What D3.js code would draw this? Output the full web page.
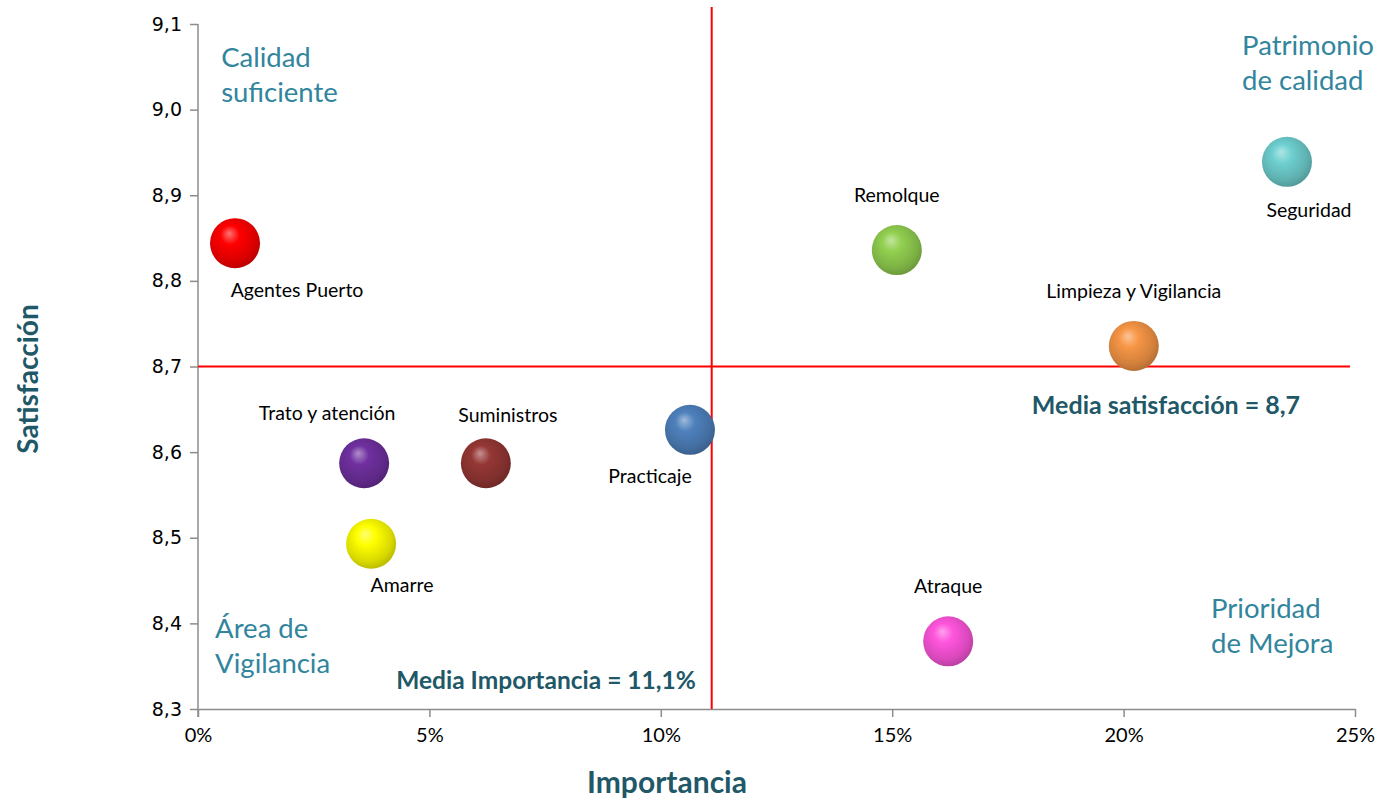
<!DOCTYPE html>
<html>
<head>
<meta charset="utf-8">
<script src="https://cdn.jsdelivr.net/npm/d3@7"></script>
<style>
  html, body { margin: 0; padding: 0; background: #fff; }
  svg { display: block; }
</style>
</head>
<body>
<svg id="chart" width="1398" height="800"></svg>
<script>
// Importancia (%) vs. Satisfacción for each port service
const services = ["Agentes Puerto", "Trato y atención", "Amarre", "Suministros", "Practicaje",
                  "Remolque", "Atraque", "Limpieza y Vigilancia", "Seguridad"];
const importance = [0.80, 3.59, 3.74, 6.22, 10.63, 15.10, 16.21, 20.22, 23.53];
const satisfaction = [8.844, 8.587, 8.493, 8.587, 8.626, 8.836, 8.379, 8.724, 8.939];
const colors = ["#ff0000", "#7030a0", "#ffff00", "#953735", "#4f81bd",
                "#92d050", "#ff55dd", "#f79646", "#6fd0d0"];
// label offsets from each bubble centre (px)
const labelDx = [62, -37, 31, 22, -40, 0, 0, 0, 22];
const labelDy = [54, -43, 48, -41, 53, -48, -48, -48, 55];

const xTicks = [0, 5, 10, 15, 20, 25];
const yTicks = [8.3, 8.4, 8.5, 8.6, 8.7, 8.8, 8.9, 9.0, 9.1];

const meanImportance = 11.1;
const meanSatisfaction = 8.7;

// quadrant captions, anchored at (importance, satisfaction) of the first line's baseline
const quadrants = [
  { lines: ["Calidad", "suficiente"], x: 0.5, y: 9.05 },
  { lines: ["Patrimonio", "de calidad"], x: 22.56, y: 9.064 },
  { lines: ["Área de", "Vigilancia"], x: 0.37, y: 8.383 },
  { lines: ["Prioridad", "de Mejora"], x: 21.89, y: 8.406 }
];

const svg = d3.select("#chart");
const x = d3.scaleLinear().domain([0, 25]).range([198, 1355]);
const y = d3.scaleLinear().domain([8.3, 9.1]).range([709, 24]);

const axisColor = "#8c8c8c";
const titleColor = "#215868";
const quadColor = "#31859c";
const font = "Lato, 'Open Sans', sans-serif";

// sphere shading gradients
const defs = svg.append("defs");
colors.forEach((c, i) => {
  const base = d3.color(c);
  const g = defs.append("radialGradient")
    .attr("id", "ball" + i)
    .attr("cx", "45%").attr("cy", "42%").attr("r", "60%")
    .attr("fx", "38%").attr("fy", "30%");
  g.append("stop").attr("offset", "0%").attr("stop-color", d3.interpolateRgb(base, "#ffffff")(0.45));
  g.append("stop").attr("offset", "32%").attr("stop-color", base.formatHex());
  g.append("stop").attr("offset", "78%").attr("stop-color", base.darker(0.45).formatHex());
  g.append("stop").attr("offset", "100%").attr("stop-color", base.darker(0.9).formatHex());
});

// axes
const xAxis = d3.axisBottom(x).tickValues(xTicks).tickFormat(d => d + "%").tickSize(8).tickSizeOuter(0);
const gx = svg.append("g").attr("transform", `translate(0,${y(8.3)})`).call(xAxis);
gx.select(".domain").attr("stroke", axisColor).attr("stroke-width", 1.5);
gx.selectAll(".tick line").attr("stroke", axisColor).attr("stroke-width", 1.5);
gx.selectAll(".tick text").attr("font-family", font).attr("font-size", 20).attr("fill", "#000").attr("dy", "1.1em");

const yAxis = d3.axisLeft(y).tickValues(yTicks).tickFormat(d => d3.format(".1f")(d).replace(".", ",")).tickSize(8).tickSizeOuter(0);
const gy = svg.append("g").attr("transform", `translate(${x(0)},0)`).call(yAxis);
gy.select(".domain").attr("stroke", axisColor).attr("stroke-width", 1.5)
  .attr("d", `M0,${y(9.1)}V${y(8.3) + 8}`);
gy.selectAll(".tick line").attr("stroke", axisColor).attr("stroke-width", 1.5);
gy.selectAll(".tick text").attr("font-family", "'DejaVu Sans', Verdana, sans-serif").attr("font-size", 19).attr("fill", "#000").attr("x", -16);

// mean lines
svg.append("line")
  .attr("x1", x(meanImportance)).attr("x2", x(meanImportance))
  .attr("y1", 7).attr("y2", y(8.3))
  .attr("stroke", "#ff0000").attr("stroke-width", 2);
svg.append("line")
  .attr("x1", x(0)).attr("x2", 1350)
  .attr("y1", y(meanSatisfaction)).attr("y2", y(meanSatisfaction))
  .attr("stroke", "#ff0000").attr("stroke-width", 2);

// bubbles
const r = 25;
svg.append("g").selectAll("circle")
  .data(services)
  .join("circle")
  .attr("cx", (d, i) => x(importance[i]))
  .attr("cy", (d, i) => y(satisfaction[i]))
  .attr("r", r)
  .attr("fill", (d, i) => `url(#ball${i})`);

// point labels
svg.append("g").selectAll("text")
  .data(services)
  .join("text")
  .attr("x", (d, i) => x(importance[i]) + labelDx[i])
  .attr("y", (d, i) => y(satisfaction[i]) + labelDy[i])
  .attr("text-anchor", "middle")
  .attr("font-family", font)
  .attr("font-size", 19.5)
  .attr("fill", "#000")
  .text(d => d);

// quadrant captions
quadrants.forEach(q => {
  const t = svg.append("text")
    .attr("x", x(q.x)).attr("y", y(q.y))
    .attr("font-family", font).attr("font-size", 27.5).attr("fill", quadColor);
  q.lines.forEach((line, k) => {
    t.append("tspan").attr("x", x(q.x)).attr("dy", k === 0 ? 0 : 35).text(line);
  });
});

// mean captions
svg.append("text")
  .attr("x", 546).attr("y", 689)
  .attr("text-anchor", "middle")
  .attr("font-family", font).attr("font-weight", "bold").attr("font-size", 24.5)
  .attr("fill", titleColor)
  .text("Media Importancia = " + String(meanImportance).replace(".", ",") + "%");
svg.append("text")
  .attr("x", 1166).attr("y", 414)
  .attr("text-anchor", "middle")
  .attr("font-family", font).attr("font-weight", "bold").attr("font-size", 25)
  .attr("fill", titleColor)
  .text("Media satisfacción = " + String(meanSatisfaction).replace(".", ","));

// axis titles
svg.append("text")
  .attr("x", 667).attr("y", 793)
  .attr("text-anchor", "middle")
  .attr("font-family", font).attr("font-weight", "bold").attr("font-size", 30)
  .attr("fill", titleColor)
  .text("Importancia");
svg.append("text")
  .attr("transform", "translate(38,379) rotate(-90)")
  .attr("text-anchor", "middle")
  .attr("font-family", font).attr("font-weight", "bold").attr("font-size", 28)
  .attr("fill", titleColor)
  .text("Satisfacción");
</script>
</body>
</html>
